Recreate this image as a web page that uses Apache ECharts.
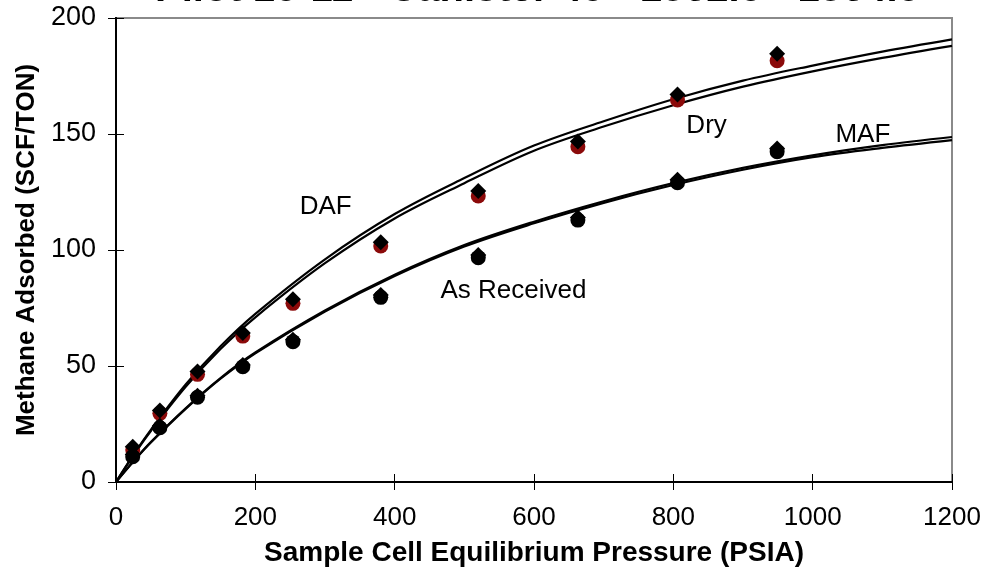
<!DOCTYPE html>
<html>
<head>
<meta charset="utf-8">
<script src="https://cdn.jsdelivr.net/npm/echarts@6/dist/echarts.min.js"></script>
<style>
html,body{margin:0;padding:0;background:#fff;}
#chart{width:984px;height:577px;}
</style>
</head>
<body>
<div id="chart"></div>
<script>
// ---- data ----
const titleText = 'Pilot 10-11 - Canister 40 - 1562.0 - 1564.0';
const xAxisTitle = 'Sample Cell Equilibrium Pressure (PSIA)';
const yAxisTitle = 'Methane Adsorbed (SCF/TON)';

const pressure = [24, 63, 117, 182, 254, 380, 520, 663, 806, 949];
const dafPts = [15.2, 30.8, 47.6, 64.2, 78.8, 103.3, 125.4, 146.8, 167.0, 184.6];
const dryPts = [13.8, 29.6, 46.4, 62.9, 77.0, 101.7, 123.3, 144.5, 164.7, 181.6];
const arPts  = [10.9, 23.4, 36.5, 49.7, 60.5, 79.6, 96.7, 112.9, 129.0, 142.4];
const mafPts = [11.8, 24.2, 37.2, 50.4, 61.3, 80.6, 97.8, 114.0, 130.3, 143.8];

const curveX   = [0, 25, 50, 100, 150, 200, 300, 400, 500, 600, 700, 800, 900, 1000, 1100, 1200];
const dafCurve = [0, 11.7, 22.5, 42.0, 58.5, 72.5, 96.0, 115.5, 131.0, 145.0, 155.5, 165.0, 173.0, 179.5, 185.5, 190.8];
const dryCurve = [0, 11.5, 22.0, 41.0, 57.3, 71.0, 94.3, 113.6, 128.8, 142.8, 153.2, 162.4, 170.4, 177.0, 182.8, 188.0];
const arCurve  = [0, 8.8, 17.0, 31.5, 44.5, 55.5, 73.5, 88.8, 101.5, 111.5, 120.3, 128.0, 134.6, 140.0, 144.0, 147.4];
const mafCurve = [0, 8.9, 17.2, 31.8, 44.8, 55.8, 73.9, 89.3, 102.1, 112.2, 121.0, 128.8, 135.4, 140.8, 145.2, 148.7];

const xTicks = [0, 200, 400, 600, 800, 1000, 1200];
const yTicks = [0, 50, 100, 150, 200];

const annoNames = ['DAF', 'Dry', 'MAF', 'As Received'];
const annoX = [263, 818, 1032, 465];
const annoY = [118.6, 153.5, 149.7, 82.5];

// ---- build ----
const pairs = (xs, ys) => xs.map((x, i) => [x, ys[i]]);
const FONT = '"Liberation Sans", Arial, sans-serif';

const chart = echarts.init(document.getElementById('chart'), null, {renderer: 'canvas'});

function mkX(inside, showLabel) {
  return {
    type: 'value', min: xTicks[0], max: xTicks[xTicks.length - 1], interval: 200,
    position: 'bottom', gridIndex: 0,
    axisLine: {show: true, onZero: false, lineStyle: {color: '#000', width: 2}},
    axisTick: {show: true, inside: inside, length: 8, lineStyle: {color: '#000', width: 1}},
    axisLabel: {show: showLabel, fontSize: 26, fontFamily: FONT, color: '#000', margin: 23,
      formatter: v => String(v)},
    splitLine: {show: false},
    name: showLabel ? xAxisTitle : '', nameLocation: 'middle', nameGap: 57,
    nameTextStyle: {fontSize: 28, fontWeight: 'bold', fontFamily: FONT, color: '#000'}
  };
}
function mkY(inside, showLabel) {
  return {
    type: 'value', min: yTicks[0], max: yTicks[yTicks.length - 1], interval: 50,
    position: 'left', gridIndex: 0,
    axisLine: {show: true, onZero: false, lineStyle: {color: '#000', width: 2}},
    axisTick: {show: true, inside: inside, length: 8, lineStyle: {color: '#000', width: 1}},
    axisLabel: {show: showLabel, fontSize: 27, fontFamily: FONT, color: '#000', margin: 20,
      formatter: v => String(v)},
    splitLine: {show: false},
    name: showLabel ? yAxisTitle : '', nameLocation: 'middle', nameGap: 75, nameRotate: 90,
    nameTextStyle: {fontSize: 26, fontWeight: 'bold', fontFamily: FONT, color: '#000'}
  };
}

const lineStyleBase = {color: '#000', width: 2.2};
function curve(name, ys) {
  return {
    name: name, type: 'line', data: pairs(curveX, ys), smooth: 0.35,
    showSymbol: false, symbol: 'none', lineStyle: lineStyleBase, z: 2, silent: true
  };
}
function pts(name, ys, symbol, color, size) {
  return {
    name: name, type: 'scatter', data: pairs(pressure, ys), symbol: symbol, symbolSize: size,
    itemStyle: {color: color, opacity: 1}, z: 4
  };
}

const option = {
  animation: false,
  backgroundColor: '#fff',
  title: {
    text: titleText, left: 150, top: -35,
    textStyle: {fontSize: 40, fontWeight: 'bold', fontFamily: FONT, color: '#000'}
  },
  grid: {left: 116, right: 32, top: 18, bottom: 95, show: true, borderColor: '#8a8a8a', borderWidth: 2, backgroundColor: 'transparent'},
  xAxis: [mkX(false, true), mkX(true, false)],
  yAxis: [mkY(false, true), mkY(true, false)],
  series: [
    curve('DAF fit', dafCurve),
    curve('Dry fit', dryCurve),
    curve('MAF fit', mafCurve),
    curve('As Received fit', arCurve),
    pts('Dry', dryPts, 'circle', '#8b0a0a', 15),
    pts('DAF', dafPts, 'diamond', '#000', 16),
    pts('As Received', arPts, 'circle', '#000', 15),
    pts('MAF', mafPts, 'diamond', '#000', 16),
    {
      name: 'labels', type: 'scatter', symbol: 'circle', symbolSize: 1,
      itemStyle: {color: 'rgba(0,0,0,0)'},
      data: annoNames.map((n, i) => ({name: n, value: [annoX[i], annoY[i]]})),
      label: {show: true, position: 'right', distance: 0, formatter: '{b}',
        fontSize: 26, fontFamily: FONT, color: '#000', opacity: 1},
      z: 5, silent: true
    }
  ]
};
chart.setOption(option);
</script>
</body>
</html>
